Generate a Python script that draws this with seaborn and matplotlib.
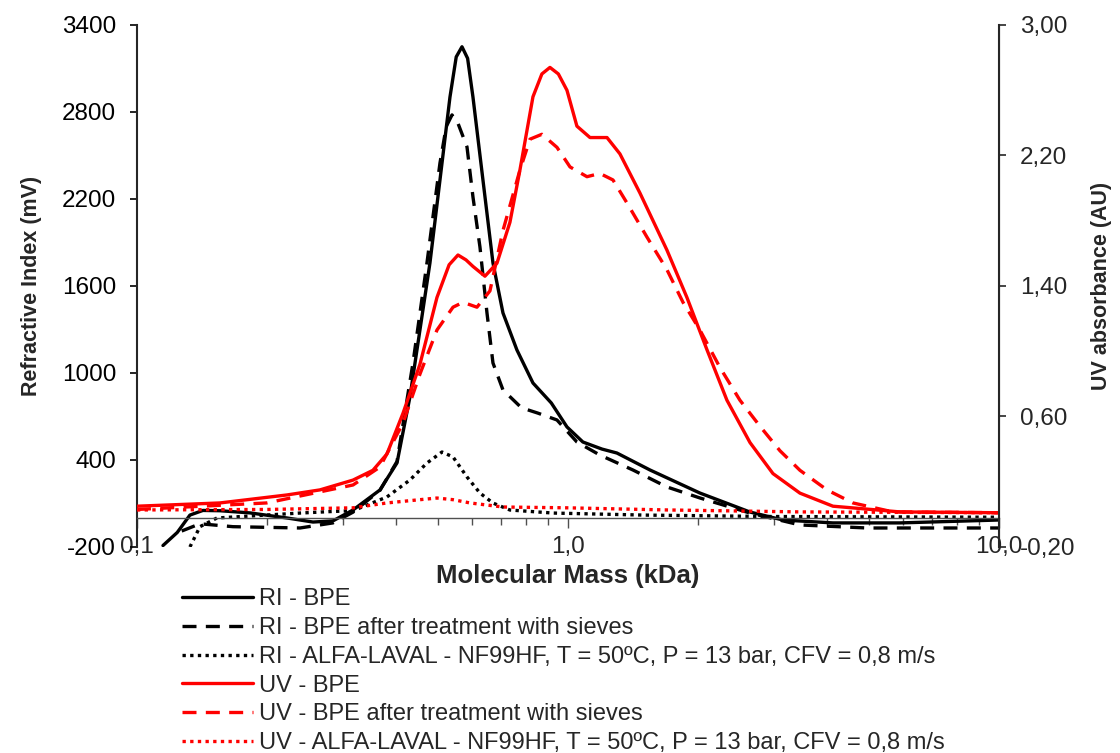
import numpy as np
import pandas as pd
import matplotlib
matplotlib.use("Agg")
import matplotlib.pyplot as plt
import matplotlib.ticker as mticker
import seaborn as sns

# ---------------- data ----------------
ri_bpe_x = [0.1149, 0.124, 0.1327, 0.1422, 0.1558, 0.1829, 0.2229, 0.2561, 0.2849, 0.3171,
            0.3662, 0.4012, 0.4299, 0.4535, 0.4784, 0.5047, 0.5324, 0.5505, 0.5677, 0.585,
            0.602, 0.635, 0.6699, 0.7067, 0.7613, 0.8295, 0.915, 0.9947, 1.083, 1.2,
            1.299, 1.55, 2.024, 2.645, 3.154, 4.12, 5.892, 10.0]
ri_bpe_y = [-190, -100, 20, 52, 50, 35, 0, -28, -20, 55,
            193, 380, 835, 1297, 1759, 2331, 2903, 3180, 3250, 3170,
            2903, 2331, 1759, 1414, 1159, 931, 793, 628, 524, 475,
            448, 331, 172, 41, -14, -34, -34, -14]

ri_sieve_x = [0.127, 0.14, 0.167, 0.2389, 0.2849, 0.3171, 0.3662, 0.4012, 0.4369, 0.4708,
              0.5047, 0.522, 0.5382, 0.556, 0.5831, 0.602, 0.6249, 0.6488, 0.6699, 0.7067,
              0.78, 0.85, 0.943, 1.049, 1.186, 1.415, 1.697, 2.024, 2.645, 3.454,
              4.941, 10.0]
ri_sieve_y = [-90, -40, -60, -69, -34, 40, 190, 390, 1069, 1759,
              2448, 2700, 2780, 2720, 2559, 2214, 1869, 1414, 1069, 883,
              760, 724, 676, 524, 434, 331, 214, 138, 34, -48,
              -69, -69]

ri_alfa_x = [0.1327, 0.14, 0.1533, 0.2389, 0.2849, 0.3171, 0.3802, 0.4299, 0.4708, 0.5102,
             0.5411, 0.5831, 0.6249, 0.6699, 0.7334, 0.923, 1.5, 3.0, 10.0]
ri_alfa_y = [-200, -60, 0, 34, 45, 50, 145, 262, 379, 455,
             421, 283, 172, 103, 55, 34, 20, 10, 5]

uv_bpe_x = [0.1, 0.1558, 0.2229, 0.2658, 0.3171, 0.3527, 0.3802, 0.4143, 0.4535, 0.4967,
            0.53, 0.5557, 0.58, 0.602, 0.6418, 0.6844, 0.7334, 0.7736, 0.8295, 0.87,
            0.9083, 0.95, 0.9947, 1.049, 1.125, 1.232, 1.32, 1.469, 1.697, 1.888,
            2.101, 2.338, 2.645, 2.99, 3.454, 4.12, 5.892, 10.0]
uv_bpe_y = [0.05, 0.07, 0.119, 0.15, 0.21, 0.27, 0.37, 0.62, 0.92, 1.33,
            1.53, 1.59, 1.56, 1.52, 1.46, 1.54, 1.79, 2.11, 2.56, 2.70,
            2.74, 2.70, 2.60, 2.38, 2.31, 2.31, 2.21, 1.97, 1.62, 1.33,
            1.01, 0.70, 0.44, 0.25, 0.13, 0.05, 0.015, 0.01]

uv_sieve_x = [0.1, 0.2, 0.3171, 0.3662, 0.4143, 0.4535, 0.4967, 0.5411, 0.5707, 0.615,
              0.6592, 0.7067, 0.7736, 0.8164, 0.87, 0.943, 1.011, 1.107, 1.186, 1.272,
              1.37, 1.525, 1.697, 1.849, 2.024, 2.253, 2.506, 2.79, 3.104, 3.454,
              3.99, 4.584, 5.676, 10.0]
uv_sieve_y = [0.03, 0.07, 0.18, 0.29, 0.56, 0.86, 1.13, 1.27, 1.30, 1.27,
              1.37, 1.74, 2.11, 2.30, 2.33, 2.25, 2.13, 2.07, 2.09, 2.05,
              1.91, 1.70, 1.50, 1.30, 1.13, 0.90, 0.70, 0.54, 0.39, 0.27,
              0.15, 0.07, 0.015, 0.01]

uv_alfa_x = [0.1, 0.2, 0.3171, 0.3802, 0.4535, 0.4967, 0.5411, 0.5925, 0.7067, 1.0,
             1.697, 3.454, 10.0]
uv_alfa_y = [0.027, 0.03, 0.04, 0.07, 0.09, 0.10, 0.09, 0.07, 0.045, 0.04,
             0.027, 0.015, 0.01]

labels = ["RI - BPE",
          "RI - BPE after treatment with sieves",
          "RI - ALFA-LAVAL - NF99HF, T = 50ºC, P = 13 bar, CFV = 0,8 m/s",
          "UV - BPE",
          "UV - BPE after treatment with sieves",
          "UV - ALFA-LAVAL - NF99HF, T = 50ºC, P = 13 bar, CFV = 0,8 m/s"]

x_ticks = [0.1, 1.0, 10.0]
x_ticklabels = ["0,1", "1,0", "10,0"]
left_ticks = [-200, 400, 1000, 1600, 2200, 2800, 3400]
right_ticks = [-0.20, 0.60, 1.40, 2.20, 3.00]
right_ticklabels = ["-0,20", "0,60", "1,40", "2,20", "3,00"]

# ---------------- style ----------------
sns.set_style("ticks")
plt.rcParams["font.family"] = ["Liberation Sans", "DejaVu Sans"]
FS_TICK = 17.5
FS_LEG = 17
FS_XLAB = 18.5
FS_YLAB = 15.5

fig = plt.figure(figsize=(11.2, 7.53), dpi=100)
ax = fig.add_axes([0.1223, 0.2736, 0.7696, 0.6932])
ax2 = ax.twinx()

LW = 2.4
dash = (0, (4.2, 2.8))
dot = (0, (1, 1.3))

series = [
    (ax, ri_bpe_x, ri_bpe_y, "black", "-", labels[0]),
    (ax, ri_sieve_x, ri_sieve_y, "black", dash, labels[1]),
    (ax, ri_alfa_x, ri_alfa_y, "black", dot, labels[2]),
    (ax2, uv_bpe_x, uv_bpe_y, "#ff0000", "-", labels[3]),
    (ax2, uv_sieve_x, uv_sieve_y, "#ff0000", dash, labels[4]),
    (ax2, uv_alfa_x, uv_alfa_y, "#ff0000", dot, labels[5]),
]
for a, xs, ys, c, ls, lab in series:
    df = pd.DataFrame({"x": xs, "y": ys})
    sns.lineplot(data=df, x="x", y="y", ax=a, color=c, linewidth=LW,
                 estimator=None, sort=False, legend=False)
    ln = a.lines[-1]
    ln.set_linestyle(ls)
    ln.set_label(lab)
    ln.set_solid_joinstyle("round")
    ln.set_dash_joinstyle("round")

ax.set_xscale("log")
ax.set_xlim(0.1, 10)
ax.set_ylim(-200, 3400)
ax2.set_ylim(-0.20, 3.00)

# left / right axes
ax.set_yticks(left_ticks)
ax.set_yticklabels([str(v) for v in left_ticks])
ax.tick_params(axis="y", direction="out", length=5, width=1.2, pad=10, labelsize=FS_TICK, colors="black")
ax2.set_yticks(right_ticks)
ax2.set_yticklabels(right_ticklabels)
ax2.tick_params(axis="y", direction="out", length=5, width=1.2, pad=10, labelsize=FS_TICK)

# x axis crossing at 0
ax.spines["bottom"].set_position(("data", 0))
ax.spines["bottom"].set_color("#505050")
ax.spines["bottom"].set_linewidth(1.0)
for a in (ax, ax2):
    a.spines["top"].set_visible(False)
    a.spines["bottom"].set_visible(a is ax)
ax.spines["left"].set_linewidth(1.5)
ax2.spines["right"].set_linewidth(1.5)
ax2.spines["left"].set_visible(False)
ax.xaxis.set_major_locator(mticker.FixedLocator(x_ticks))
ax.xaxis.set_minor_locator(mticker.LogLocator(base=10, subs=np.arange(2, 10)))
ax.xaxis.set_major_formatter(mticker.NullFormatter())
ax.xaxis.set_minor_formatter(mticker.NullFormatter())
ax.tick_params(axis="x", which="major", direction="out", length=7, width=1.0, colors="#505050")
ax.tick_params(axis="x", which="minor", direction="out", length=5, width=1.0, colors="#505050")
ax.set_xlabel("")
ax.set_ylabel("Refractive Index (mV)", fontsize=FS_YLAB, fontweight="bold", labelpad=14)
ax2.set_ylabel("UV absorbance (AU)", fontsize=FS_YLAB, fontweight="bold", labelpad=11)

# x tick labels at the bottom edge
sec = ax.secondary_xaxis(0)
sec.set_xscale("log")
sec.xaxis.set_minor_locator(mticker.NullLocator())
sec.set_xticks(x_ticks)
sec.set_xticklabels(x_ticklabels)
sec.tick_params(axis="x", length=0, pad=0, labelsize=FS_TICK)
for t in sec.get_xticklabels():
    t.set_va("center")
sec.spines["bottom"].set_visible(False)
sec.set_xlabel("Molecular Mass (kDa)", fontsize=FS_XLAB, fontweight="bold", labelpad=4)

# legend
handles = ax.get_lines()[:3] + ax2.get_lines()[:3]
handles = [h for h in handles if h.get_label() in labels]
fig.legend(handles=handles, labels=[h.get_label() for h in handles],
           loc="upper left", bbox_to_anchor=(0.1625, 0.219), frameon=False,
           fontsize=FS_LEG, handlelength=3.0, handletextpad=0.25, labelspacing=0.29,
           borderpad=0, borderaxespad=0)

fig.savefig("out.png", dpi=100)
